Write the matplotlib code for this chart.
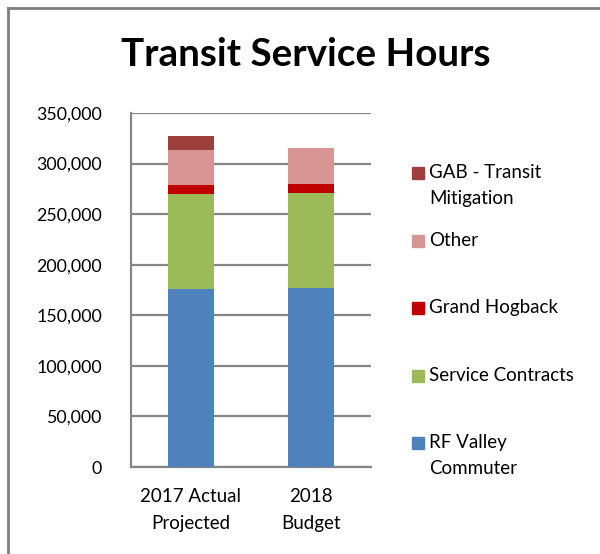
import matplotlib
matplotlib.use("Agg")
import matplotlib.pyplot as plt
from matplotlib.patches import Rectangle
from matplotlib.lines import Line2D
from matplotlib.ticker import FuncFormatter

categories = ["2017 Actual\nProjected", "2018\nBudget"]
series_names = ["RF Valley\nCommuter", "Service Contracts", "Grand Hogback", "Other", "GAB - Transit\nMitigation"]
rf_valley = [176000, 177300]
service_contracts = [93600, 93900]
grand_hogback = [9200, 8600]
other = [34600, 35300]
gab_mitigation = [13900, 0]
series_values = [rf_valley, service_contracts, grand_hogback, other, gab_mitigation]
colors = ["#4f81bd", "#9bbb59", "#c00000", "#d99594", "#9e3f3d"]
yticks = [0, 50000, 100000, 150000, 200000, 250000, 300000, 350000]

FONT = "Lato"
plt.rcParams["font.family"] = [FONT, "DejaVu Sans"]

fig = plt.figure(figsize=(6.0, 5.54), dpi=100)
W, H = 600, 554
ax = fig.add_axes([131 / W, 1 - 467 / H, 240 / W, 354 / H])

x = list(range(len(categories)))
bottoms = [0] * len(categories)
for vals, c in zip(series_values, colors):
    ax.bar(x, vals, width=0.39, bottom=bottoms, color=c, zorder=3)
    bottoms = [b + v for b, v in zip(bottoms, vals)]

ax.set_xlim(-0.5, len(categories) - 0.5)
ax.set_ylim(0, 350000)
ax.set_yticks(yticks)
ax.yaxis.set_major_formatter(FuncFormatter(lambda v, p: f"{int(v):,}"))
ax.set_xticks(x)
ax.set_xticklabels(categories, fontsize=13.5, linespacing=1.75)
ax.tick_params(axis="y", length=0, pad=21, labelsize=12.8)
ax.tick_params(axis="x", length=0, pad=15)
ax.grid(axis="y", color="#868686", linewidth=1.6, zorder=0)
for s in ["top", "right"]:
    ax.spines[s].set_visible(False)
for s in ["left", "bottom"]:
    ax.spines[s].set_color("#868686")
    ax.spines[s].set_linewidth(1.6)

fig.text(306 / W, 1 - 54 / H, "Transit Service Hours", ha="center", va="center",
         fontsize=27.8, fontweight="bold")

# legend (reversed order, Excel style)
legend_tops = [167, 235, 302, 370, 437]
for i, (name, c) in enumerate(zip(series_names[::-1], colors[::-1])):
    top = legend_tops[i]
    fig.patches.append(Rectangle((412 / W, 1 - (top + 11.5) / H), 11.5 / W, 11.5 / H,
                                 transform=fig.transFigure, color=c))
    fig.text(429 / W, 1 - (top - 3) / H, name, ha="left", va="top", fontsize=13.5,
             linespacing=1.65)

# chart border
fig.lines.append(Line2D([8 / W, 8 / W], [0, 1 - 8 / H], transform=fig.transFigure,
                        color="#7f7f7f", linewidth=2))
fig.lines.append(Line2D([8 / W, 1], [1 - 8 / H, 1 - 8 / H], transform=fig.transFigure,
                        color="#7f7f7f", linewidth=2))

fig.savefig("out.png", dpi=100)
